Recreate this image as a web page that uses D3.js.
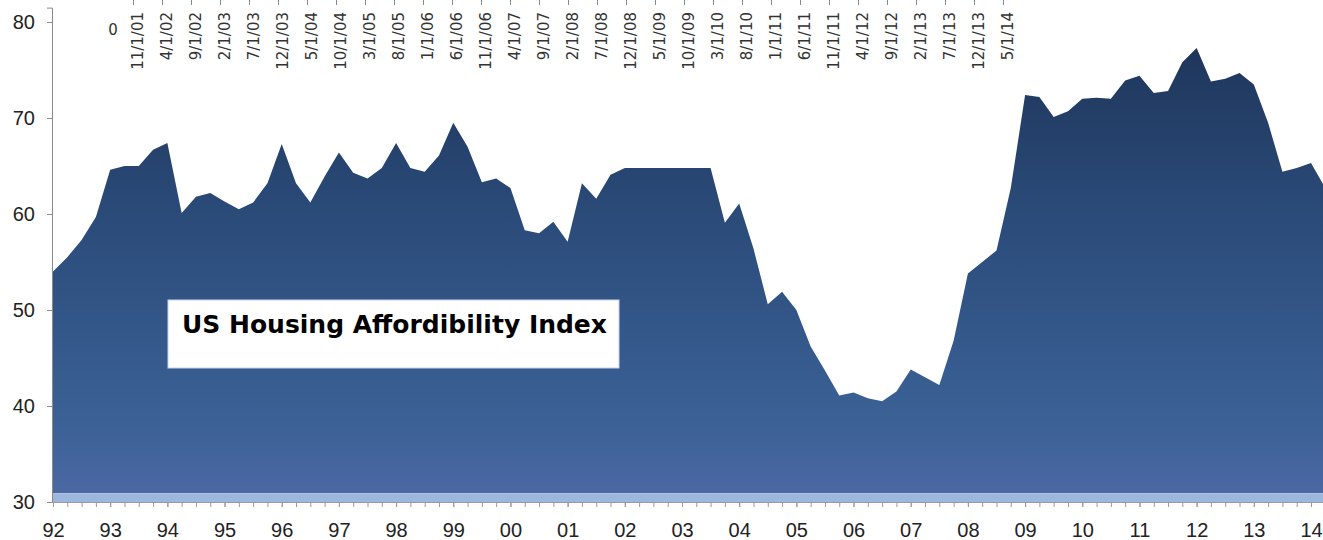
<!DOCTYPE html>
<html lang="en">
<head>
<meta charset="UTF-8">
<title>US Housing Affordability Index</title>
<script src="https://cdn.jsdelivr.net/npm/d3@7"></script>
<style>
  body { margin: 0; background: #fff; }
  svg { display: block; }
</style>
</head>
<body>
<div id="chart"></div>
<script>
// quarterly index values, 1992 Q1 .. 2014 Q2
var startYear = 1992;
var values = [
  54.0, 55.5, 57.3, 59.7,
  64.6, 65.0, 65.0, 66.7,
  67.4, 60.1, 61.8, 62.2,
  61.3, 60.5, 61.2, 63.2,
  67.3, 63.2, 61.2, 63.9,
  66.4, 64.3, 63.7, 64.8,
  67.4, 64.8, 64.4, 66.1,
  69.5, 67.0, 63.3, 63.7,
  62.7, 58.3, 58.0, 59.2,
  57.1, 63.2, 61.6, 64.1,
  64.8, 64.8, 64.8, 64.8,
  64.8, 64.8, 64.8, 59.1,
  61.1, 56.4, 50.6, 51.9,
  50.0, 46.2, 43.7, 41.1,
  41.4, 40.8, 40.5, 41.5,
  43.8, 43.0, 42.2, 46.8,
  53.8, 55.0, 56.2, 62.7,
  72.4, 72.2, 70.1, 70.7,
  72.0, 72.1, 72.0, 73.9,
  74.4, 72.6, 72.8, 75.8,
  77.3, 73.8, 74.1, 74.7,
  73.5, 69.5, 64.4, 64.8,
  65.3, 62.7
];
var yearTicks = [1992, 1993, 1994, 1995, 1996, 1997, 1998, 1999, 2000, 2001, 2002,
                 2003, 2004, 2005, 2006, 2007, 2008, 2009, 2010, 2011, 2012, 2013, 2014];
var yearLabels = ["92", "93", "94", "95", "96", "97", "98", "99", "00", "01", "02",
                  "03", "04", "05", "06", "07", "08", "09", "10", "11", "12", "13", "14"];
var yTicks = [30, 40, 50, 60, 70, 80];
// stray date axis along the top
var topLabels = ["11/1/01", "4/1/02", "9/1/02", "2/1/03", "7/1/03", "12/1/03", "5/1/04",
  "10/1/04", "3/1/05", "8/1/05", "1/1/06", "6/1/06", "11/1/06", "4/1/07", "9/1/07",
  "2/1/08", "7/1/08", "12/1/08", "5/1/09", "10/1/09", "3/1/10", "8/1/10", "1/1/11",
  "6/1/11", "11/1/11", "4/1/12", "9/1/12", "2/1/13", "7/1/13", "12/1/13", "5/1/14"];
var title = "US Housing Affordibility Index";

var width = 1323, height = 540;

var svg = d3.select("#chart").append("svg")
    .attr("width", width)
    .attr("height", height);

var x = d3.scaleLinear().domain([1992, 2014]).range([53, 1311]);
var y = d3.scaleLinear().domain([30, 81.5]).range([502, 7.6]);
var xTop = d3.scalePoint().domain(topLabels).range([133, 1003]);

// gradient for the area
var defs = svg.append("defs");
var grad = defs.append("linearGradient")
    .attr("id", "fillGrad")
    .attr("gradientUnits", "userSpaceOnUse")
    .attr("x1", 0).attr("y1", y(80))
    .attr("x2", 0).attr("y2", y(30.9));
grad.append("stop").attr("offset", "0%").attr("stop-color", "#1d3357");
grad.append("stop").attr("offset", "45%").attr("stop-color", "#2c4d7c");
grad.append("stop").attr("offset", "85%").attr("stop-color", "#3b6196");
grad.append("stop").attr("offset", "100%").attr("stop-color", "#4b68a3");

// area
var area = d3.area()
    .x(function(d, i) { return x(startYear + i / 4); })
    .y0(y(30.9))
    .y1(function(d) { return y(d); });

svg.append("path")
    .attr("d", area(values))
    .attr("fill", "url(#fillGrad)");

// light floor band
svg.append("rect")
    .attr("x", x(1992) - 1)
    .attr("y", y(30.9))
    .attr("width", width - x(1992) + 1)
    .attr("height", y(30) - y(30.9))
    .attr("fill", "#9db6de");

// y axis
var yAxis = svg.append("g")
    .attr("transform", "translate(" + (x(1992) - 1) + ",0)")
    .call(d3.axisLeft(y).tickValues(yTicks).tickSize(5).tickPadding(12));
yAxis.select(".domain").attr("stroke", "#8a8a8a");
yAxis.selectAll(".tick line").attr("stroke", "#8a8a8a");
yAxis.selectAll(".tick text")
    .attr("font-family", "Liberation Sans, Arial, sans-serif")
    .attr("font-size", 20)
    .attr("fill", "#222");

// x axis: quarterly minor ticks
var quarters = d3.range(0, 89).map(function(i) { return startYear + i / 4; });
var xMinor = svg.append("g")
    .attr("transform", "translate(0," + y(30) + ")")
    .call(d3.axisBottom(x).tickValues(quarters).tickFormat("").tickSize(5).tickSizeOuter(0));
xMinor.select(".domain").attr("stroke", "#9a9a9a")
    .attr("d", "M" + (x(1992) - 1) + ",0.5H" + width);
xMinor.selectAll(".tick line").attr("stroke", "#9a9a9a");

// x axis: year labels
var xAxis = svg.append("g")
    .attr("transform", "translate(0," + y(30) + ")")
    .call(d3.axisBottom(x).tickValues(yearTicks)
        .tickFormat(function(d, i) { return yearLabels[i]; })
        .tickSize(5).tickPadding(16));
xAxis.select(".domain").remove();
xAxis.selectAll(".tick line").attr("stroke", "#9a9a9a");
xAxis.selectAll(".tick text")
    .attr("font-family", "Liberation Sans, Arial, sans-serif")
    .attr("font-size", 20)
    .attr("fill", "#222");

// top date axis
var topAxis = svg.append("g")
    .call(d3.axisBottom(xTop).tickSize(5).tickSizeOuter(0).tickFormat(""));
topAxis.select(".domain").remove();
topAxis.selectAll(".tick line").attr("stroke", "#8a8a8a");

svg.append("g").selectAll("text")
    .data(topLabels)
    .join("text")
    .attr("transform", function(d) { return "translate(" + (xTop(d) + 10) + ",12) rotate(-90)"; })
    .attr("text-anchor", "end")
    .attr("font-family", "DejaVu Sans, sans-serif")
    .attr("font-size", 15)
    .attr("fill", "#333")
    .text(function(d) { return d; });

svg.append("text")
    .attr("x", 113)
    .attr("y", 35)
    .attr("text-anchor", "middle")
    .attr("font-family", "DejaVu Sans, sans-serif")
    .attr("font-size", 15)
    .attr("fill", "#333")
    .text("0");

// title box
svg.append("rect")
    .attr("x", 168).attr("y", 300)
    .attr("width", 451).attr("height", 68)
    .attr("fill", "#fff")
    .attr("stroke", "#c5d3ea")
    .attr("stroke-width", 1);

svg.append("text")
    .attr("x", 182).attr("y", 333)
    .attr("font-family", "DejaVu Sans, Verdana, sans-serif")
    .attr("font-weight", "bold")
    .attr("font-size", 25)
    .attr("fill", "#000")
    .text(title);
</script>
</body>
</html>
